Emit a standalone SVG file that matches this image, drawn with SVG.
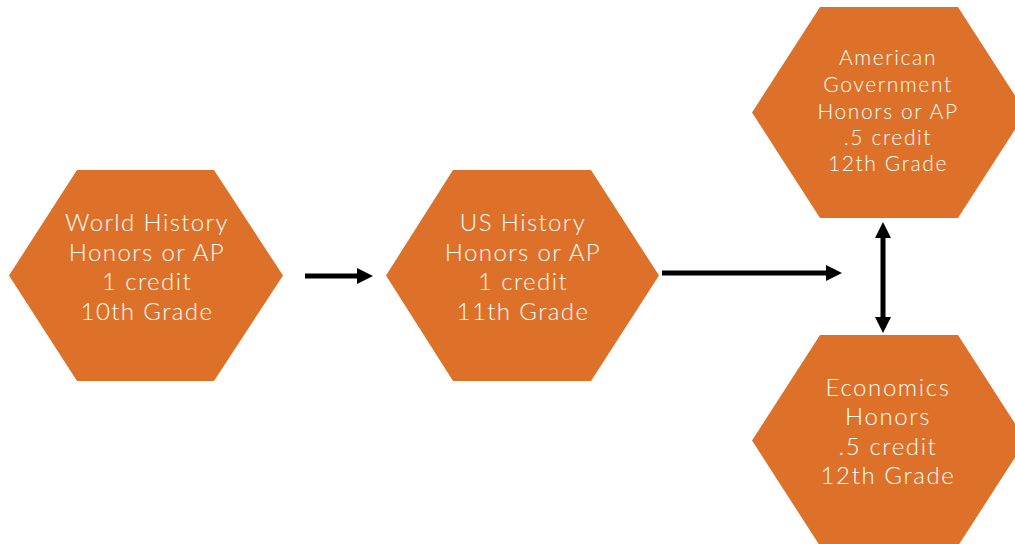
<svg xmlns="http://www.w3.org/2000/svg" width="1015" height="544" viewBox="0 0 1015 544">
<style>
.hex{fill:#DE7129;}
.t{fill:#ffffff;font-family:Lato,"Liberation Sans",sans-serif;font-weight:300;text-anchor:middle;}
.t1{font-size:24px;letter-spacing:1.4px;}
.t3{font-size:21px;letter-spacing:1.6px;}
.t4{font-size:24px;letter-spacing:1.6px;}
.c{stroke:#000;stroke-width:5;fill:none;}
</style>
<defs>
<marker id="ah" viewBox="0 0 16 16" refX="5" refY="8" markerWidth="16" markerHeight="16" markerUnits="userSpaceOnUse" orient="auto-start-reverse">
<path d="M0,0 L16,8 L0,16 z" fill="#000"/>
</marker>
</defs>
<rect width="1015" height="544" fill="#fff"/>
<g id="world-history">
<polygon class="hex" points="77,170 214,170 283,275.5 214,381 77,381 9,275.5"/>
<text class="t t1" x="147"><tspan x="147" y="231">World History</tspan><tspan x="147" y="261">Honors or AP</tspan><tspan x="147" y="290">1 credit</tspan><tspan x="147" y="320">10th Grade</tspan></text>
</g>
<g id="us-history">
<polygon class="hex" points="453,170 591,170 659,275.5 591,381 453,381 386,275.5"/>
<text class="t t1" x="523"><tspan x="523" y="231">US History</tspan><tspan x="523" y="261">Honors or AP</tspan><tspan x="523" y="290">1 credit</tspan><tspan x="523" y="320">11th Grade</tspan></text>
</g>
<g id="american-government">
<polygon class="hex" points="820,7 958,7 1026,112.5 958,218 820,218 752,112.5"/>
<text class="t t3" x="888"><tspan x="888" y="65">American</tspan><tspan x="888" y="92">Government</tspan><tspan x="888" y="119">Honors or AP</tspan><tspan x="888" y="145">.5 credit</tspan><tspan x="888" y="171">12th Grade</tspan></text>
</g>
<g id="economics">
<polygon class="hex" points="820,335 958,335 1026,440.5 958,546 820,546 752,440.5"/>
<text class="t t4" x="888"><tspan x="888" y="396">Economics</tspan><tspan x="888" y="425">Honors</tspan><tspan x="888" y="455">.5 credit</tspan><tspan x="888" y="484">12th Grade</tspan></text>
</g>
<g id="connectors">
<line class="c" x1="305" y1="276" x2="362" y2="276" marker-end="url(#ah)"/>
<line class="c" x1="662" y1="273" x2="831" y2="273" marker-end="url(#ah)"/>
<line class="c" x1="883" y1="233" x2="883" y2="322" marker-start="url(#ah)" marker-end="url(#ah)"/>
</g>
</svg>
